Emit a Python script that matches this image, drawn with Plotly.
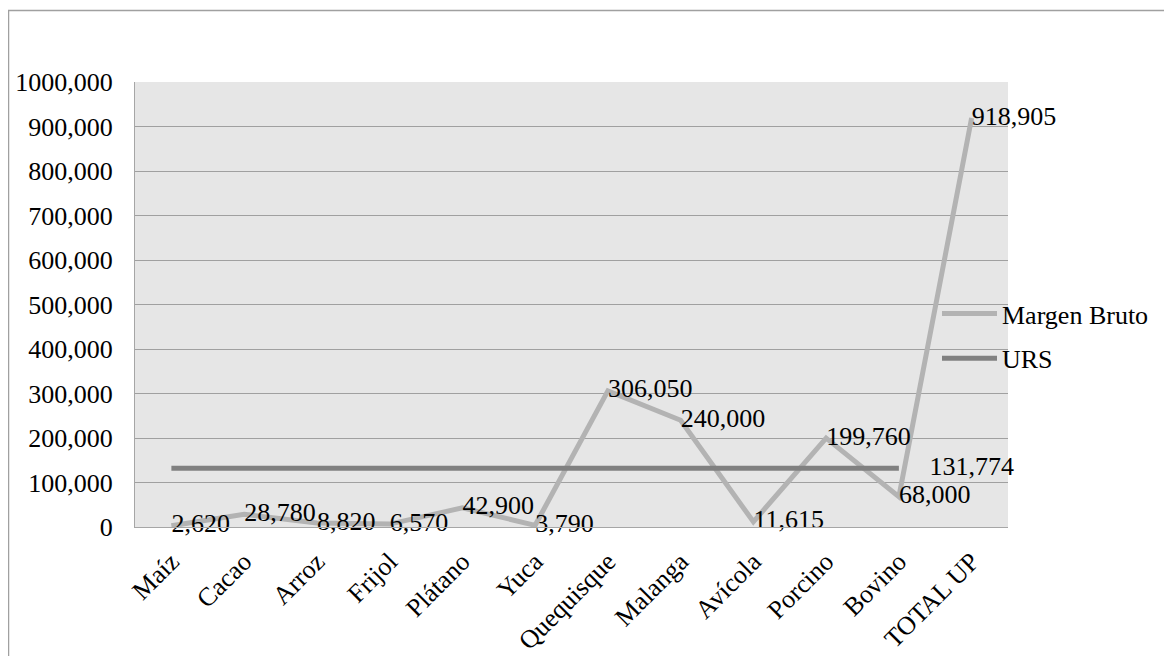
import plotly.graph_objects as go

categories = ["Maíz", "Cacao", "Arroz", "Frijol", "Plátano", "Yuca",
              "Quequisque", "Malanga", "Avícola", "Porcino", "Bovino", "TOTAL UP"]
margen_bruto = [2620, 28780, 8820, 6570, 42900, 3790,
                306050, 240000, 11615, 199760, 68000, 918905]
urs_categories = ["Maíz", "Cacao", "Arroz", "Frijol", "Plátano", "Yuca",
                  "Quequisque", "Malanga", "Avícola", "Porcino", "Bovino"]
urs_values = [131774, 131774, 131774, 131774, 131774, 131774,
              131774, 131774, 131774, 131774, 131774]
urs_label_category = "TOTAL UP"
urs_label_value = 131774
y_tick_values = [0, 100000, 200000, 300000, 400000, 500000,
                 600000, 700000, 800000, 900000, 1000000]
y_tick_labels = ["0", "100,000", "200,000", "300,000", "400,000", "500,000",
                 "600,000", "700,000", "800,000", "900,000", "1000,000"]

FONT = "Liberation Serif, Times New Roman, serif"
FS = 26
W, H = 1172, 656
L, T = 127, 74          # figure coords (page has 8px body margin)
PW, PH = 873, 445
R, B = W - L - PW, H - T - PH
PAGE_LEFT, PAGE_BOTTOM = L + 8, T + 8 + PH


def px_x(p):
    return (p - PAGE_LEFT) / PW


def px_y(p):
    return (PAGE_BOTTOM - p) / PH


fig = go.Figure()

fig.add_trace(go.Scatter(
    x=categories, y=margen_bruto, name="Margen Bruto",
    mode="lines+text",
    line=dict(color="#b3b3b3", width=5),
    text=[f"{v:,}" for v in margen_bruto],
    textposition="middle right",
    textfont=dict(family=FONT, size=FS, color="black"),
    legendgroup="a", cliponaxis=False,
))

fig.add_trace(go.Scatter(
    x=urs_categories, y=urs_values, name="URS",
    mode="lines",
    line=dict(color="#808080", width=5),
    legendgroup="b", cliponaxis=False,
))

fig.add_trace(go.Scatter(
    x=[urs_label_category], y=[urs_label_value],
    mode="text", text=[f"{urs_label_value:,}"],
    textposition="middle center",
    textfont=dict(family=FONT, size=FS, color="black"),
    showlegend=False, cliponaxis=False,
))

fig.update_layout(
    width=W, height=H, autosize=False,
    margin=dict(l=L, r=R, t=T, b=B, pad=0, autoexpand=False),
    paper_bgcolor="white",
    plot_bgcolor="#e6e6e6",
    font=dict(family=FONT, size=FS, color="black"),
    showlegend=True,
    legend=dict(
        x=px_x(937), y=px_y(290), xanchor="left", yanchor="top",
        bgcolor="rgba(0,0,0,0)",
        font=dict(family=FONT, size=FS, color="black"),
        traceorder="grouped", tracegroupgap=8,
        itemwidth=55,
    ),
    xaxis=dict(
        categoryorder="array", categoryarray=categories,
        range=[-0.5, len(categories) - 0.5],
        showgrid=False, showline=True, linecolor="#a6a6a6", linewidth=1,
        tickangle=-45, ticks="", ticklabelstandoff=8,
        tickfont=dict(family=FONT, size=FS, color="black"),
        zeroline=False, automargin=False,
    ),
    yaxis=dict(
        range=[0, 1000000],
        tickvals=y_tick_values, ticktext=y_tick_labels,
        showgrid=True, gridcolor="#a0a0a0", gridwidth=1,
        showline=True, linecolor="#a6a6a6", linewidth=1,
        zeroline=False, ticks="",
        ticklabelstandoff=16, automargin=False,
        tickfont=dict(family=FONT, size=FS, color="black"),
    ),
    shapes=[dict(
        type="rect", xref="paper", yref="paper",
        x0=px_x(8.5), x1=px_x(1200), y0=px_y(700), y1=px_y(10.5),
        line=dict(color="#a0a0a0", width=1.5), fillcolor="rgba(0,0,0,0)",
        layer="below",
    )],
)

fig.write_html("out.html")
